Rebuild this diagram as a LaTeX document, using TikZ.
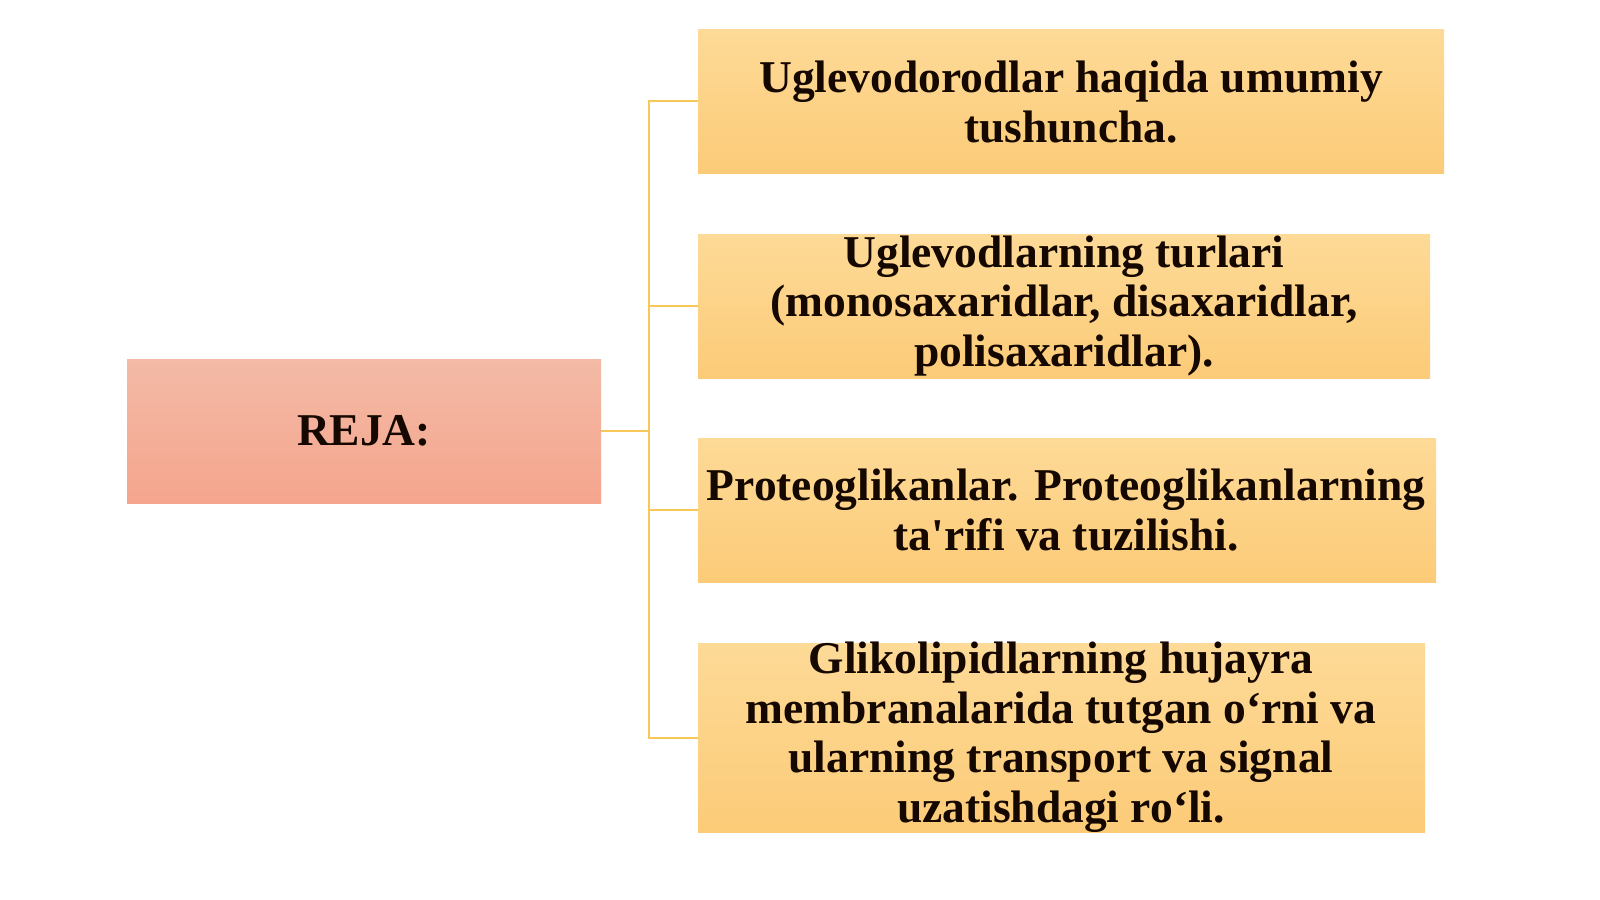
\documentclass[tikz,border=0pt]{standalone}
\usepackage{fontspec}
\setmainfont{Liberation Serif}
\usetikzlibrary{positioning}
\definecolor{ortop}{HTML}{FDDA97}
\definecolor{orbot}{HTML}{FCCB78}
\definecolor{rtop}{HTML}{F3BAA6}
\definecolor{rbot}{HTML}{F5A58D}
\definecolor{lnk}{HTML}{F7C75A}
\definecolor{txt}{HTML}{150800}
\begin{document}
\begin{tikzpicture}[x=1pt,y=-1pt,
  itembox/.style={top color=ortop,bottom color=orbot,draw=none},
  rejabox/.style={top color=rtop,bottom color=rbot,draw=none},
  itemtext/.style={align=center,text=txt,font=\fontsize{45.5}{49.5}\selectfont\bfseries,inner sep=0pt},
  link/.style={draw=lnk,line width=1.3pt}]
\useasboundingbox (0,0) rectangle (1600,899);
\fill[white] (0,0) rectangle (1600,899);
% boxes
\path[rejabox] (127,359) rectangle (601,503);
\path[itembox] (698,30) rectangle (1444,173);
\path[itembox] (698,234) rectangle (1430,378);
\path[itembox] (698,438) rectangle (1436,582);
\path[itembox] (698,643) rectangle (1425,832);
% text nodes
\node[itemtext] (reja) at (364,431) {REJA:};
\node[itemtext] (b1) at (1071,102) {Uglevodorodlar haqida umumiy\\tushuncha.};
\node[itemtext] (b2) at (1064,306) {Uglevodlarning turlari\\(monosaxaridlar, disaxaridlar,\\polisaxaridlar).};
\node[itemtext] (b3) at (1066,510) {Proteoglikanlar. Proteoglikanlarning\\ta\textquotesingle rifi va tuzilishi.};
\node[itemtext] (b4) at (1061,737) {Glikolipidlarning hujayra\\membranalarida tutgan o‘rni va\\ularning transport va signal\\uzatishdagi ro‘li.};
% anchors for connectors
\coordinate (rejaR) at (601,431);
\coordinate (j) at (649,431);
\coordinate (e1) at (698,101);
\coordinate (e2) at (698,306);
\coordinate (e3) at (698,510);
\coordinate (e4) at (698,738);
\draw[link] (rejaR) -- (j);
\draw[link] (e1) -| (j) |- (e4);
\draw[link] (j |- e2) -- (e2);
\draw[link] (j |- e3) -- (e3);
\end{tikzpicture}
\end{document}
